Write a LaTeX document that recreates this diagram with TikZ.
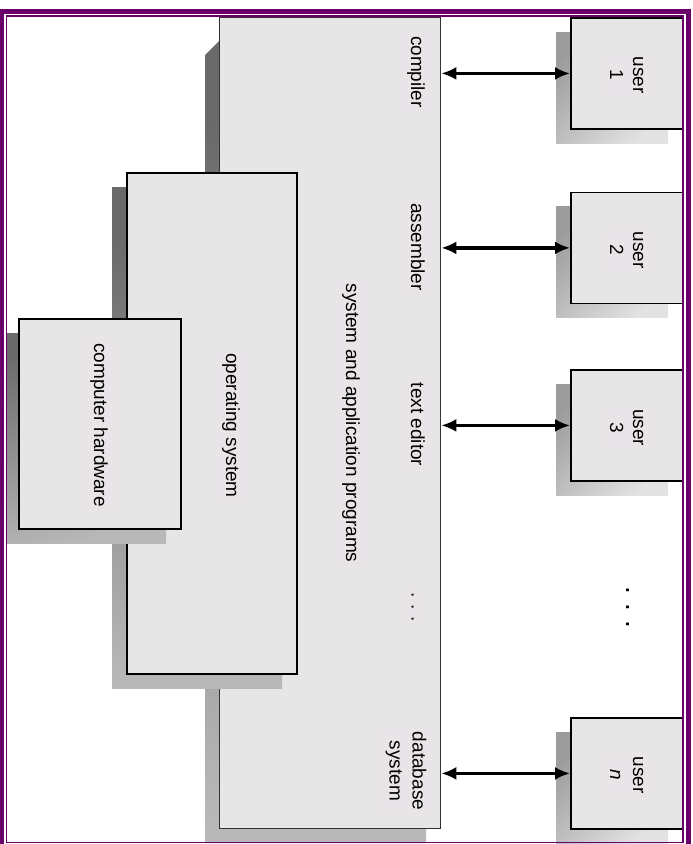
\documentclass[tikz,border=0pt]{standalone}
\usepackage{fontspec}
\setmainfont{Liberation Sans}
\usetikzlibrary{arrows.meta}
\definecolor{framepurple}{RGB}{106,0,106}
\definecolor{boxgray}{RGB}{230,230,230}
\definecolor{labelbg}{RGB}{232,228,232}
\definecolor{shadowdark}{RGB}{106,106,106}
\definecolor{shadowlight}{RGB}{184,184,184}
\definecolor{usershadowdark}{RGB}{156,156,156}
\definecolor{usershadowlight}{RGB}{226,226,226}

\begin{document}
\begin{tikzpicture}[x=1pt, y=-1pt,
    box/.style={draw=black, line width=2pt, fill=boxgray, anchor=north west, inner sep=0pt},
    userbox/.style={box, line width=1.8pt, minimum width=112pt, minimum height=111pt},
    lbl/.style={rotate=-90, anchor=base, fill=labelbg, inner xsep=4pt, inner ysep=9pt,
        align=center, font=\fontsize{19}{23}\selectfont},
    bigshadow/.style={top color=shadowdark, bottom color=shadowlight, shading angle=15},
    usershadow/.style={top color=usershadowdark, bottom color=usershadowlight, shading angle=45},
    link/.style={line width=3.4pt, {Latex[length=15pt,width=13pt]}-{Latex[length=15pt,width=13pt]}}]

    \useasboundingbox (0,0) rectangle (693,844);
    \fill[white] (0,0) rectangle (693,844);

    % application layer with its shadow
    \shade[bigshadow] (205,55) -- (219,41) -- (426,41) -- (426,843) -- (205,843) -- cycle;
    \node[box, draw=black!80, line width=1.3pt, minimum width=221pt, minimum height=811pt] (apps) at (219,17) {};

    % operating system layer
    \shade[bigshadow] (112,187) rectangle (282,688);
    \node[box, minimum width=170pt, minimum height=501pt] (os) at (126,172) {};

    % hardware layer
    \shade[bigshadow] (7,333) rectangle (166,543);
    \node[box, minimum width=162pt, minimum height=210pt] (hw) at (18,318) {};

    % the users
    \foreach \name/\top in {u1/17, u2/191.5, u3/369, un/717}{
        \shade[usershadow] (556,\top+15) rectangle (668,\top+126);
        \node[userbox] (\name) at (570,\top) {};
    }

    % labels (base of a two-line label is its last line)
    \node[lbl] (hwlabel) at (94,425) {computer hardware};
    \node[lbl] (oslabel) at (226,425.5) {operating system};
    \node[lbl] (appslabel) at (346,423) {system and application programs};
    \node[lbl] (compiler) at (411,72) {compiler};
    \node[lbl] (assembler) at (411,247) {assembler};
    \node[lbl] (editor) at (411,424.5) {text editor};
    \node[lbl] (appdots) at (411.5,607) {.\hspace{6.7pt}.\hspace{6.7pt}.};
    \node[lbl] (database) at (389.5,771) {database\\system};

    \node[lbl] at (610,75) {user\\1};
    \node[lbl] at (610,250) {user\\2};
    \node[lbl] at (610,427.5) {user\\3};
    \node[lbl] at (610,775) {user\\\textit{n}};
    \node[rotate=-90, anchor=base, font=\fontsize{28}{30}\selectfont] (userdots) at (626.5,607)
        {.\hspace{9.2pt}.\hspace{9.2pt}.};

    % links between programs and users
    \foreach \name in {u1, u2, u3, un}
        \draw[link] (apps.east |- \name.west) -- (\name.west);

    % double purple frame
    \draw[framepurple, line width=4.5pt] (1.5,11.3) rectangle (688.5,852);
    \draw[framepurple, line width=1.4pt] (6.6,15.8) rectangle (683,842.4);
\end{tikzpicture}
\end{document}
